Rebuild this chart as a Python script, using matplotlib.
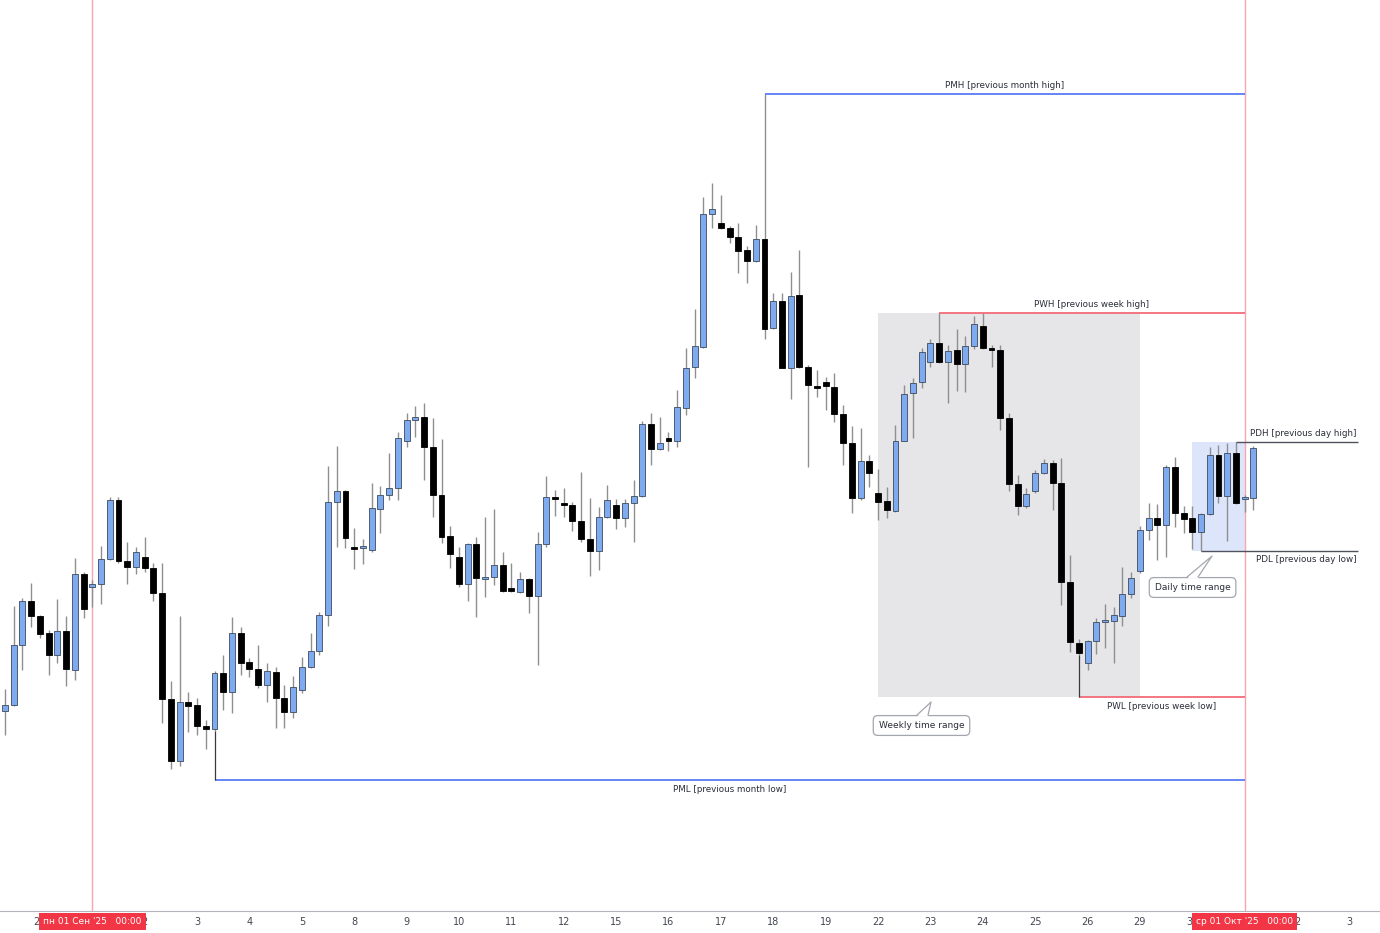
import numpy as np
import matplotlib.pyplot as plt
from matplotlib.patches import Rectangle, Polygon
import matplotlib.transforms as mtransforms

# EURUSD 4H candles, 28 Aug 08:00 .. 01 Oct 04:00 (weekends skipped), prices in pips
opens = np.array([
    11608.5, 11611.5, 11641.5, 11663.5, 11656, 11647.5, 11636.5, 11648.5, 11629, 11677,
    11670.5, 11672, 11684.5, 11714, 11683.5, 11680.5, 11685.5, 11680, 11667.5, 11614.5,
    11583.5, 11613, 11611.5, 11601, 11599.5, 11627.5, 11618, 11647.5, 11633, 11629.5,
    11621.5, 11628, 11615, 11608, 11619, 11630.5, 11638.5, 11656.5, 11713, 11718.5,
    11690.5, 11690, 11689, 11709.5, 11716.5, 11720, 11743.5, 11754, 11755.5, 11740.5,
    11716.5, 11696, 11685.5, 11672, 11692, 11674.5, 11675.5, 11681.5, 11670, 11668,
    11674.5, 11666, 11692, 11715.5, 11712, 11711.5, 11703.5, 11694.5, 11688.5, 11705.5,
    11711.5, 11705, 11712.5, 11716, 11752, 11739.5, 11745, 11743.5, 11760, 11780.5,
    11790.5, 11857, 11852.5, 11850, 11845.5, 11839, 11833.5, 11844.5, 11800, 11813.5,
    11780, 11816.5, 11780.5, 11771, 11773, 11770.5, 11757, 11742.5, 11715, 11733.5,
    11717.5, 11713.5, 11708.5, 11743.5, 11767.5, 11773, 11783, 11792.5, 11783, 11789,
    11782, 11791, 11801, 11790, 11789, 11755, 11722, 11711, 11718.5, 11727.5,
    11732.5, 11722.5, 11673, 11642.5, 11632.5, 11643.5, 11653, 11653.5, 11656, 11667,
    11678.5, 11699, 11705, 11701.5, 11730.5, 11707.5, 11705, 11698, 11707, 11736.5,
    11716, 11737.5, 11714.5, 11715]) / 1e4
highs = np.array([
    11619.5, 11661, 11665, 11672.5, 11656.5, 11649, 11664.5, 11656, 11685, 11678,
    11674, 11691, 11715.5, 11715.5, 11693, 11690.5, 11695.5, 11682.5, 11682.5, 11623.5,
    11656, 11618, 11615, 11604, 11628.5, 11636.5, 11655.5, 11650.5, 11635, 11641.5,
    11632.5, 11630.5, 11621.5, 11626, 11635.5, 11647.5, 11658, 11731, 11741, 11719,
    11700, 11694.5, 11722.5, 11721, 11737.5, 11748, 11757.5, 11761, 11762.5, 11755,
    11744.5, 11701, 11690.5, 11692.5, 11695.5, 11705.5, 11709.5, 11688, 11682.5, 11678,
    11675, 11698, 11726, 11719, 11720, 11713, 11728, 11715, 11710.5, 11721.5,
    11714.5, 11714.5, 11724, 11753.5, 11757.5, 11755.5, 11748, 11769, 11790, 11809.5,
    11865.5, 11872.5, 11866.5, 11851, 11852.5, 11841, 11851.5, 11917, 11817.5, 11817.5,
    11828, 11839, 11781.5, 11779, 11775.5, 11777.5, 11761.5, 11751, 11750, 11736.5,
    11729.5, 11720.5, 11751.5, 11771.5, 11775, 11790, 11794.5, 11807.5, 11791.5, 11799.5,
    11796, 11806, 11807.5, 11791.5, 11791.5, 11757.5, 11726.5, 11720, 11729, 11734.5,
    11734, 11735, 11686.5, 11644.5, 11644, 11655, 11662, 11660.5, 11680.5, 11678,
    11701, 11712.5, 11712, 11731.5, 11735.5, 11711, 11711, 11707.5, 11740.5, 11741.5,
    11742.5, 11743, 11716.5, 11741]) / 1e4
lows = np.array([
    11596.5, 11611, 11629, 11650.5, 11645, 11626.5, 11632.5, 11621, 11624, 11655,
    11660.5, 11662, 11684, 11682.5, 11672, 11677, 11678, 11663.5, 11602.5, 11579.5,
    11581, 11598, 11596.5, 11589.5, 11598.5, 11609, 11607.5, 11626.5, 11625.5, 11620,
    11613, 11600, 11600, 11605, 11617.5, 11630, 11636.5, 11651, 11690.5, 11690,
    11679.5, 11682, 11688, 11697.5, 11714, 11714, 11740.5, 11745.5, 11724, 11705.5,
    11692.5, 11680, 11670.5, 11663.5, 11655.5, 11665.5, 11671.5, 11668, 11668, 11667.5,
    11657.5, 11631.5, 11690.5, 11706, 11705.5, 11698.5, 11693, 11676, 11679, 11705,
    11699.5, 11700.5, 11693, 11715.5, 11731.5, 11739, 11738.5, 11740.5, 11756.5, 11775,
    11790, 11850, 11849.5, 11842.5, 11827.5, 11822.5, 11833, 11794.5, 11799.5, 11780,
    11764.5, 11780, 11730.5, 11765.5, 11759, 11753, 11731.5, 11707.5, 11714, 11720.5,
    11704, 11705, 11708, 11743.5, 11745, 11770, 11780.5, 11782.5, 11762.5, 11768.5,
    11768, 11789.5, 11789.5, 11780.5, 11749, 11718.5, 11706.5, 11710, 11717.5, 11727,
    11709, 11661.5, 11638, 11636.5, 11629, 11637, 11640, 11632.5, 11651, 11665,
    11677.5, 11694, 11684, 11685.5, 11700.5, 11697.5, 11689.5, 11688.5, 11706.5, 11712.5,
    11693.5, 11712, 11708, 11709]) / 1e4
closes = np.array([
    11611.5, 11641.5, 11663.5, 11656, 11647, 11636.5, 11648.5, 11629.5, 11677, 11659.5,
    11672, 11684.5, 11714, 11683.5, 11680.5, 11688, 11680, 11667.5, 11614.5, 11583.5,
    11613, 11611, 11601, 11599.5, 11627.5, 11618, 11647.5, 11632.5, 11629.5, 11621.5,
    11628.5, 11615, 11608, 11620.5, 11630.5, 11638.5, 11656.5, 11713, 11718.5, 11695,
    11689.5, 11690, 11710, 11716.5, 11720, 11745, 11754, 11755.5, 11740.5, 11716.5,
    11695.5, 11687, 11672, 11692, 11675, 11675.5, 11681.5, 11668.5, 11668.5, 11674.5,
    11666, 11692, 11715.5, 11714.5, 11711.5, 11703.5, 11694.5, 11688.5, 11705.5, 11714,
    11705, 11712.5, 11716, 11752, 11739.5, 11742.5, 11743.5, 11760.5, 11780, 11791,
    11857, 11859.5, 11850, 11845.5, 11838.5, 11833.5, 11844.5, 11799.5, 11813.5, 11780,
    11816, 11780.5, 11771.5, 11770, 11771, 11757, 11742.5, 11715, 11733.5, 11727.5,
    11713, 11709, 11743.5, 11767, 11772.5, 11788, 11792.5, 11783, 11788.5, 11782,
    11791, 11802, 11790, 11789, 11755, 11722, 11711, 11717, 11727.5, 11732.5,
    11722.5, 11673, 11643, 11637.5, 11643.5, 11653, 11653.5, 11656.5, 11667, 11675,
    11699, 11705, 11701.5, 11730.5, 11707.5, 11704.5, 11698, 11707, 11736.5, 11716,
    11737.5, 11712.5, 11715, 11740]) / 1e4

candles_per_day = 6
first_day_idx = 4          # 29 Aug 00:00
# month-start days are hidden behind the red date badges, so they get no label
day_labels = ["29", "", "2", "3", "4", "5", "8", "9", "10", "11", "12", "15", "16",
              "17", "18", "19", "22", "23", "24", "25", "26", "29", "30", "", "2", "3"]

# month starts (vertical markers)
month_idx = [10, 142]
month_text = ["пн 01 Сен '25   00:00", "ср 01 Окт '25   00:00"]

# key levels
lvl_text = ["PMH [previous month high]", "PWH [previous week high]", "PDH [previous day high]",
            "PDL [previous day low]", "PWL [previous week low]", "PML [previous month low]"]
lvl_price = [1.1917, 1.18075, 1.1743, 1.16885, 1.16155, 1.1574]
lvl_start = [87, 107, 141, 137, 123, 24]
lvl_end = [142, 142, 155, 155, 142, 142]
lvl_color = ["#5b7cf5", "#f36b78", "#50535e", "#50535e", "#f36b78", "#5b7cf5"]
lvl_above = [True, True, True, False, False, False]

week_range = (100, 130)
day_range = (136, 142)

fig = plt.figure(figsize=(13.8, 9.33), dpi=100)
ax = fig.add_axes([0, 22 / 933, 1, 911 / 933])
ax.set_xlim(-0.573, 157.5)
ax.set_ylim(1.15085, 1.1964)
for s in ["top", "left", "right"]:
    ax.spines[s].set_visible(False)
ax.spines["bottom"].set_color("#b2b5be")
ax.set_yticks([])

x = np.arange(len(opens))

# time range boxes
ax.add_patch(Rectangle((week_range[0], lvl_price[4]), week_range[1] - week_range[0],
                       lvl_price[1] - lvl_price[4], fc="#e6e6e8", ec="none", zorder=0))
ax.add_patch(Rectangle((day_range[0], lvl_price[3]), day_range[1] - day_range[0],
                       lvl_price[2] - lvl_price[3], fc="#dde5fa", ec="none", zorder=0))

# month separators
for m in month_idx:
    ax.axvline(m, color="#f7a6ae", lw=1, zorder=1)

# candles
up = closes >= opens
ax.vlines(x, lows, highs, color="#8f8f8f", lw=1, zorder=2)
body = np.maximum(np.abs(closes - opens), 0.00008)
bottom = np.minimum(opens, closes)
ax.bar(x[up], body[up], bottom=bottom[up], width=0.68, color="#7eabf0",
       edgecolor="#3e4a5c", linewidth=0.6, zorder=3)
ax.bar(x[~up], body[~up], bottom=bottom[~up], width=0.68, color="black",
       edgecolor="black", linewidth=0.6, zorder=3)

# level lines
for t, p, a, b, c, above in zip(lvl_text, lvl_price, lvl_start, lvl_end, lvl_color, lvl_above):
    lw = 1.0 if c == "#50535e" else 1.3
    ax.hlines(p, a, b, color=c, lw=lw, zorder=4)
    # connector from the candle to the level
    ext = highs[a] if above else lows[a]
    if abs(ext - p) > 1e-6:
        ax.vlines(a, min(ext, p), max(ext, p), color="#3a3a3a", lw=0.9, zorder=4)
    if b == 155:
        ax.annotate(t, (b - 0.2, p), xytext=(0, 6 if above else -6), textcoords="offset points",
                    ha="right", va="center", fontsize=6.3, color="#2a2e39")
    else:
        ax.annotate(t, ((a + b) / 2, p), xytext=(0, 6 if above else -6.5), textcoords="offset points",
                    ha="center", va="center", fontsize=6.3, color="#2a2e39")


# callouts
def callout(text, cx, cy, base_l, base_r, base_y, tip):
    ax.text(cx, cy, text, ha="center", va="center", fontsize=6.5, color="#2a2e39", zorder=6,
            bbox=dict(boxstyle="round,pad=0.6,rounding_size=0.5", fc="white", ec="#a3a6af", lw=0.9))
    ax.add_patch(Polygon([(base_l, base_y - 0.00008), tip, (base_r, base_y - 0.00008)],
                         closed=True, fc="white", ec="none", zorder=7))
    ax.plot([base_l, tip[0], base_r], [base_y, tip[1], base_y], color="#a3a6af", lw=0.9, zorder=8)


callout("Weekly time range", 104.98, 1.160125, 104.47, 105.73, 1.16065, (106.07, 1.1613))
callout("Daily time range", 136.03, 1.167025, 135.4, 136.66, 1.16755, (138.26, 1.1686))

# time axis
ticks = [first_day_idx + candles_per_day * k for k in range(len(day_labels))]
ax.set_xticks(ticks)
ax.set_xticklabels(day_labels, fontsize=7, color="#434651")
ax.tick_params(axis="x", length=0, pad=4)

trans = mtransforms.blended_transform_factory(ax.transData, ax.transAxes)
for m, t in zip(month_idx, month_text):
    ax.text(m, -0.0115, t, transform=trans, ha="center", va="center", fontsize=6.5,
            color="white", zorder=10, clip_on=False,
            bbox=dict(boxstyle="square,pad=0.45", fc="#f23645", ec="none"))

fig.savefig("out.png", dpi=100)
